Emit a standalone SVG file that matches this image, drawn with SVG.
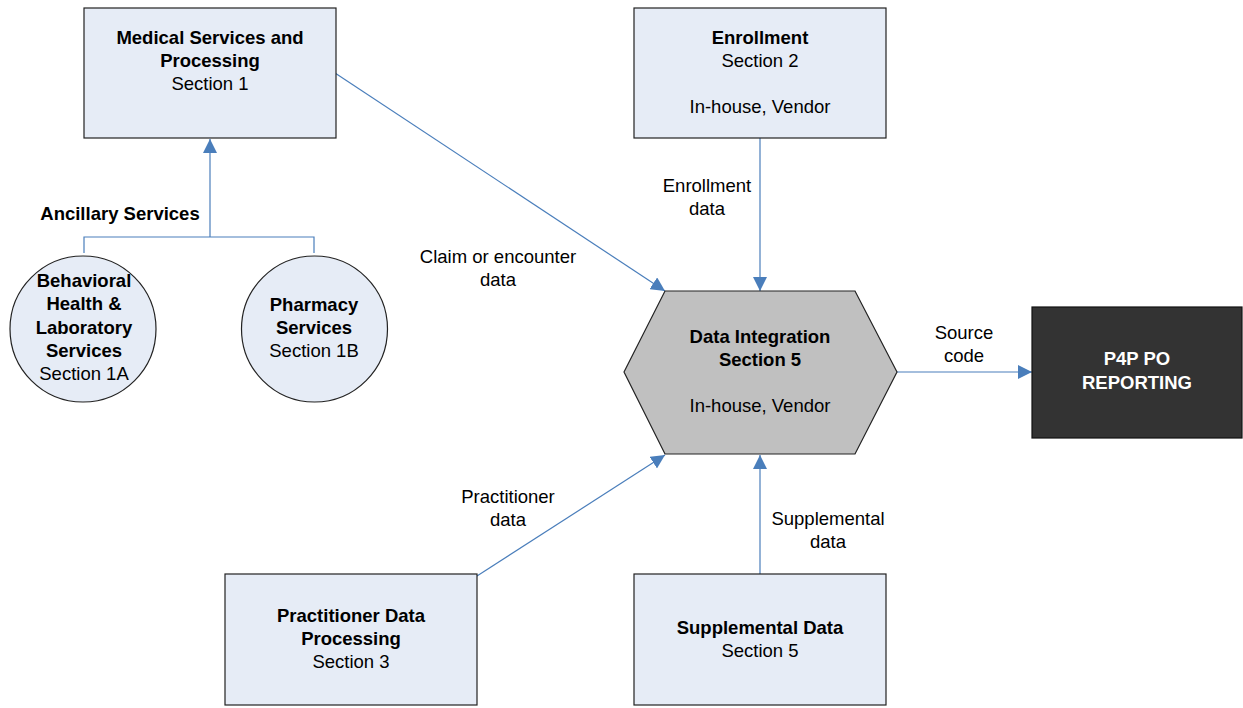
<svg xmlns="http://www.w3.org/2000/svg" width="1243" height="708" viewBox="0 0 1243 708">
  <defs>
    <marker id="arrow" viewBox="0 0 10 10" refX="10" refY="5" markerWidth="14" markerHeight="14" markerUnits="userSpaceOnUse" orient="auto">
      <path d="M0,0 L10,5 L0,10 Z" fill="#4a7ebb"/>
    </marker>
    <style>
      .box { fill: #e6ecf6; stroke: #222; stroke-width: 1.2; }
      .hex { fill: #c0c0c0; stroke: #222; stroke-width: 1.2; }
      .dark { fill: #333333; stroke: #111; stroke-width: 1.2; }
      .conn { fill: none; stroke: #4a7ebb; stroke-width: 1.2; }
      text { font-family: "Liberation Sans", Arial, sans-serif; font-size: 18.5px; fill: #000; text-anchor: middle; }
      .b { font-weight: bold; }
      .w { fill: #fff; font-weight: bold; }
    </style>
  </defs>
  <rect width="1243" height="708" fill="#fff"/>

  <!-- connectors and their labels -->
  <g id="connectors">
    <polyline class="conn" points="84,253 84,237 314,237 314,253"/>
    <line class="conn" x1="210" y1="237" x2="210" y2="139" marker-end="url(#arrow)"/>
    <line class="conn" x1="335" y1="73" x2="665" y2="291" marker-end="url(#arrow)"/>
    <line class="conn" x1="760" y1="138" x2="760" y2="291" marker-end="url(#arrow)"/>
    <line class="conn" x1="477" y1="576" x2="665" y2="455" marker-end="url(#arrow)"/>
    <line class="conn" x1="760" y1="574" x2="760" y2="455" marker-end="url(#arrow)"/>
    <line class="conn" x1="897" y1="372" x2="1032" y2="372" marker-end="url(#arrow)"/>
    <text x="120" y="220" class="b">Ancillary Services</text>
    <text x="498" y="263">Claim or encounter</text>
    <text x="498" y="286">data</text>
    <text x="707" y="192">Enrollment</text>
    <text x="707" y="215">data</text>
    <text x="964" y="339">Source</text>
    <text x="964" y="362">code</text>
    <text x="508" y="503">Practitioner</text>
    <text x="508" y="526">data</text>
    <text x="828" y="525">Supplemental</text>
    <text x="828" y="548">data</text>
  </g>

  <g id="medical">
    <rect class="box" x="84" y="8" width="252" height="130"/>
    <text x="210" y="44" class="b">Medical Services and</text>
    <text x="210" y="67" class="b">Processing</text>
    <text x="210" y="90">Section 1</text>
  </g>

  <g id="enrollment">
    <rect class="box" x="634" y="8" width="252" height="130"/>
    <text x="760" y="44" class="b">Enrollment</text>
    <text x="760" y="67">Section 2</text>
    <text x="760" y="113">In-house, Vendor</text>
  </g>

  <g id="behavioral">
    <circle class="box" cx="83" cy="329" r="73"/>
    <text x="84" y="287" class="b">Behavioral</text>
    <text x="84" y="310" class="b">Health &amp;</text>
    <text x="84" y="334" class="b">Laboratory</text>
    <text x="84" y="357" class="b">Services</text>
    <text x="84" y="380">Section 1A</text>
  </g>

  <g id="pharmacy">
    <circle class="box" cx="314.5" cy="329" r="73"/>
    <text x="314" y="311" class="b">Pharmacy</text>
    <text x="314" y="334" class="b">Services</text>
    <text x="314" y="357">Section 1B</text>
  </g>

  <g id="integration">
    <polygon class="hex" points="624,372 665,291 855,291 897,372 855,454 665,454"/>
    <text x="760" y="343" class="b">Data Integration</text>
    <text x="760" y="366" class="b">Section 5</text>
    <text x="760" y="412">In-house, Vendor</text>
  </g>

  <g id="reporting">
    <rect class="dark" x="1032" y="307" width="210" height="131"/>
    <text x="1137" y="365" class="w">P4P PO</text>
    <text x="1137" y="389" class="w">REPORTING</text>
  </g>

  <g id="practitioner">
    <rect class="box" x="225" y="574" width="252" height="131"/>
    <text x="351" y="622" class="b">Practitioner Data</text>
    <text x="351" y="645" class="b">Processing</text>
    <text x="351" y="668">Section 3</text>
  </g>

  <g id="supplemental">
    <rect class="box" x="634" y="574" width="252" height="131"/>
    <text x="760" y="634" class="b">Supplemental Data</text>
    <text x="760" y="657">Section 5</text>
  </g>
</svg>
